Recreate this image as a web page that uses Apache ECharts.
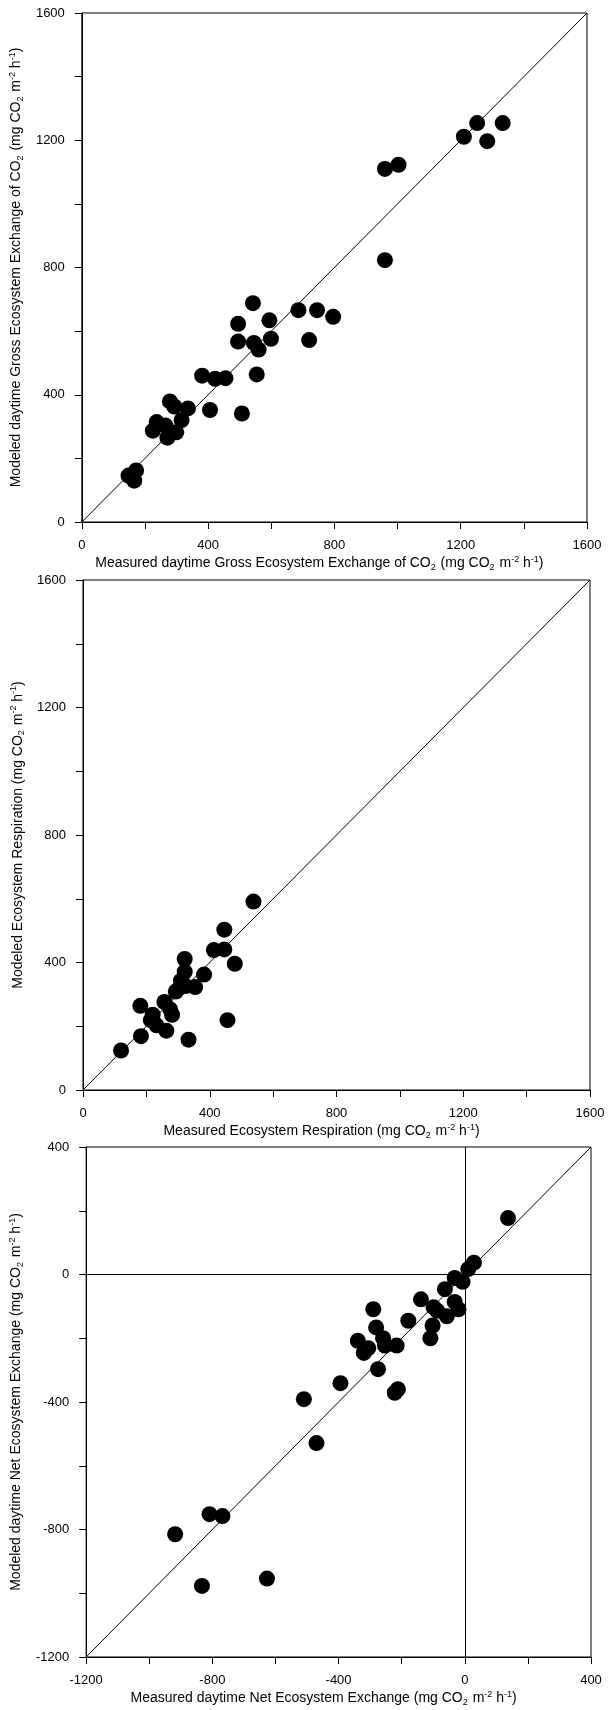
<!DOCTYPE html>
<html>
<head>
<meta charset="utf-8">
<title>Measured vs modeled CO2 exchange</title>
<script src="https://cdn.jsdelivr.net/npm/echarts@6/dist/echarts.min.js"></script>
<style>
  html, body { margin: 0; padding: 0; background: #fff; }
  #chart { width: 612px; height: 1710px; }
</style>
</head>
<body>
<div id="chart"></div>
<script>
// Gross Ecosystem Exchange (daytime), mg CO2 m-2 h-1
const geeMeasured = [148, 172, 166, 225, 237, 265, 271, 299, 279, 293, 316, 336, 381, 406, 422, 455, 507, 495, 495, 542, 545, 560, 554, 594, 599, 686, 720, 745, 796, 960, 960, 1003, 1210, 1252, 1284, 1333];
const geeModeled  = [146, 162, 130, 287, 314, 303, 265, 282, 379, 363, 320, 357, 460, 352, 450, 452, 341, 623, 567, 688, 563, 542, 464, 634, 576, 666, 572, 666, 645, 823, 1110, 1123, 1211, 1254, 1197, 1254];

// Ecosystem Respiration
const reMeasured = [120, 183, 181, 214, 220, 232, 263, 257, 275, 281, 305, 309, 321, 321, 324, 354, 333, 382, 413, 446, 446, 456, 479, 538, 293];
const reModeled  = [124, 169, 264, 219, 236, 203, 186, 276, 253, 236, 321, 343, 411, 371, 326, 323, 158, 362, 439, 503, 441, 219, 396, 591, 309];

// Net Ecosystem Exchange (daytime)
const neeMeasured = [137, 29, 11, -7, -32, -63, -32, -20, -57, -87, -99, -102, -109, -139, -179, -290, -281, -259, -253, -216, -339, -320, -306, -275, -222, -212, -394, -510, -470, -809, -768, -918, -833, -627];
const neeModeled  = [177, 37, 17, -23, -11, -46, -86, -109, -131, -114, -103, -160, -200, -78, -145, -109, -166, -200, -223, -223, -208, -246, -231, -297, -371, -360, -341, -391, -529, -752, -758, -815, -977, -954];

// Axis ranges [min, max] for each panel
const geeRange = [0, 1600];
const reRange = [0, 1600];
const neeRange = [-1200, 400];

const FONT = '"Liberation Sans", Arial, sans-serif';

const rich = {
  sub: { fontSize: 9, fontFamily: FONT, color: '#000', verticalAlign: 'bottom', padding: [0, 1, 0, 0] },
  sup: { fontSize: 9, fontFamily: FONT, color: '#000', verticalAlign: 'top' }
};

const unit = '(mg CO{sub|2} m{sup|-2} h{sup|-1})';

const zip = (a, b) => a.map((v, i) => [v, b[i]]);

function tickLabel() {
  return {
    margin: 17, fontSize: 13, fontFamily: FONT, color: '#000',
    formatter: v => (v % 400 === 0 ? String(v) : ''),
    showMinLabel: true, showMaxLabel: true
  };
}

function makeXAxis(idx, range, name) {
  return {
    type: 'value', gridIndex: idx, min: range[0], max: range[1], interval: 200,
    name: name, nameLocation: 'middle', nameGap: 33,
    nameTextStyle: {
      fontSize: 14, fontFamily: FONT, color: '#000', lineHeight: 17,
      padding: [0, 30, 0, 0], rich: rich
    },
    axisLine: { show: true, onZero: false, lineStyle: { color: '#000', width: 1 } },
    axisTick: { show: true, inside: false, length: 7, lineStyle: { color: '#000', width: 1 } },
    axisLabel: tickLabel(),
    splitLine: { show: false }
  };
}

function makeYAxis(idx, range, name, gap) {
  return {
    type: 'value', gridIndex: idx, min: range[0], max: range[1], interval: 200,
    name: name, nameLocation: 'middle', nameGap: gap, nameRotate: 90,
    nameTextStyle: { fontSize: 14, fontFamily: FONT, color: '#000', lineHeight: 17, rich: rich },
    axisLine: { show: true, onZero: false, lineStyle: { color: '#000', width: 1 } },
    axisTick: { show: true, inside: false, length: 7, lineStyle: { color: '#000', width: 1 } },
    axisLabel: tickLabel(),
    splitLine: { show: false }
  };
}

const thin = { color: '#000', width: 1, type: 'solid' };

function scatterSeries(idx, xs, ys, range, extraLines) {
  // 1:1 line across the full axis range
  const lines = [[{ coord: [range[0], range[0]] }, { coord: [range[1], range[1]] }]];
  return {
    type: 'scatter', xAxisIndex: idx, yAxisIndex: idx,
    data: zip(xs, ys),
    symbol: 'circle', symbolSize: 16,
    itemStyle: { color: '#000', opacity: 1 },
    markLine: {
      silent: true, symbol: ['none', 'none'], animation: false,
      label: { show: false }, lineStyle: thin,
      data: lines.concat(extraLines || [])
    },
    z: 3
  };
}

const chart = echarts.init(document.getElementById('chart'), null, { renderer: 'canvas' });

chart.setOption({
  animation: false,
  backgroundColor: '#fff',
  grid: [
    { left: 80, top: 13, width: 507, height: 509, show: true, borderColor: '#000', borderWidth: 1 },
    { left: 83, top: 580, width: 507, height: 510, show: true, borderColor: '#000', borderWidth: 1 },
    { left: 83, top: 1147, width: 508, height: 510, show: true, borderColor: '#000', borderWidth: 1 }
  ],
  xAxis: [
    makeXAxis(0, geeRange, 'Measured daytime Gross Ecosystem Exchange of CO{sub|2} ' + unit),
    makeXAxis(1, reRange, 'Measured Ecosystem Respiration ' + unit),
    makeXAxis(2, neeRange, 'Measured daytime Net Ecosystem Exchange ' + unit)
  ],
  yAxis: [
    makeYAxis(0, geeRange, 'Modeled daytime Gross Ecosystem Exchange of CO{sub|2} ' + unit, 53),
    makeYAxis(1, reRange, 'Modeled Ecosystem Respiration ' + unit, 56),
    makeYAxis(2, neeRange, 'Modeled daytime Net Ecosystem Exchange ' + unit, 56)
  ],
  series: [
    scatterSeries(0, geeMeasured, geeModeled, geeRange),
    scatterSeries(1, reMeasured, reModeled, reRange),
    scatterSeries(2, neeMeasured, neeModeled, neeRange, [
      [{ coord: [neeRange[0], 0] }, { coord: [neeRange[1], 0] }],
      [{ coord: [0, neeRange[0]] }, { coord: [0, neeRange[1]] }]
    ])
  ]
});
</script>
</body>
</html>
